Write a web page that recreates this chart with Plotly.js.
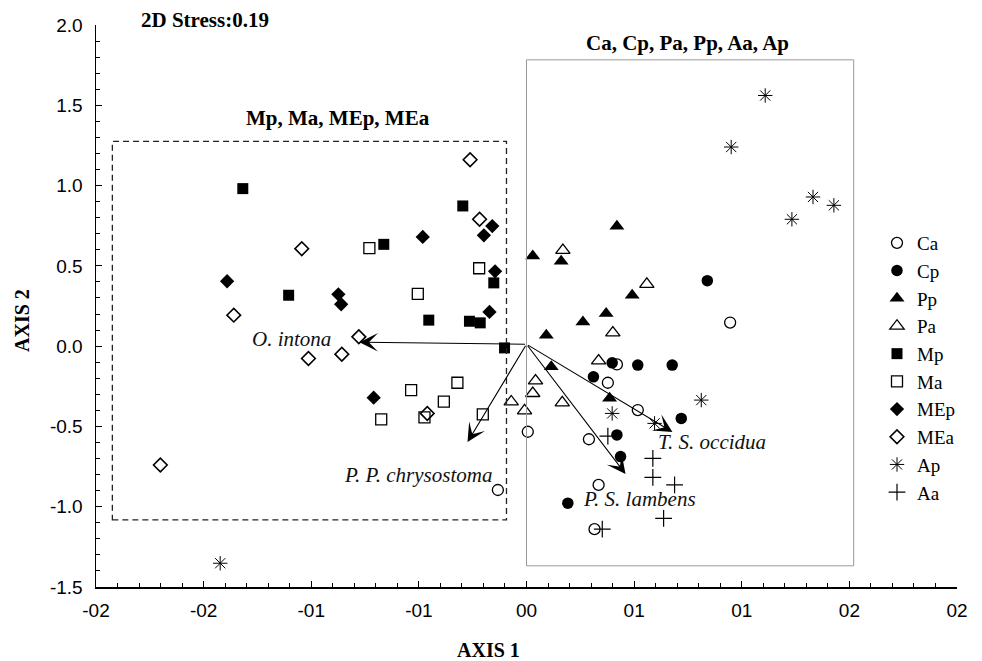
<!DOCTYPE html>
<html>
<head>
<meta charset="utf-8">
<script src="https://cdn.plot.ly/plotly-3.0.1.min.js"></script>
<style>html,body{margin:0;padding:0;background:#fff;}#chart{width:982px;height:661px;}</style>
</head>
<body>
<div id="chart"></div>
<script>
// ---- data ----
const caX = [0.0946, 0.0420, 0.0378, 0.0517, 0.0006, 0.0290, 0.0335, 0.0316, -0.0133];
const caY = [0.147, -0.114, -0.228, -0.398, -0.533, -0.580, -0.864, -1.140, -0.896];
const cpX = [0.0840, 0.0398, 0.0517, 0.0677, 0.0311, 0.0719, 0.0420, 0.0437, 0.0192];
const cpY = [0.408, -0.104, -0.118, -0.118, -0.191, -0.450, -0.553, -0.688, -0.978];
const ppX = [0.0420, 0.0029, 0.0161, 0.0491, 0.0370, 0.0262, 0.0092, 0.0115, 0.0386];
const ppY = [0.746, 0.562, 0.529, 0.317, 0.203, 0.151, 0.068, -0.129, -0.325];
const paX = [0.0169, 0.0559, 0.0401, 0.0335, 0.0042, 0.0029, -0.0009, 0.0166, -0.0071];
const paY = [0.597, 0.386, 0.083, -0.091, -0.216, -0.294, -0.402, -0.352, -0.346];
const mpX = [-0.1318, -0.1105, -0.0663, -0.0296, -0.0152, -0.0454, -0.0265, -0.0215, -0.0102];
const mpY = [0.981, 0.317, 0.634, 0.873, 0.394, 0.162, 0.155, 0.145, -0.011];
const maX = [-0.0730, -0.0220, -0.0505, -0.0321, -0.0536, -0.0384, -0.0675, -0.0474, -0.0203];
const maY = [0.611, 0.485, 0.325, -0.228, -0.274, -0.346, -0.456, -0.444, -0.425];
const mepX = [-0.1391, -0.0874, -0.0861, -0.0482, -0.0159, -0.0198, -0.0146, -0.0172, -0.0710];
const mepY = [0.404, 0.323, 0.261, 0.680, 0.748, 0.690, 0.466, 0.213, -0.321];
const meaX = [-0.0262, -0.0218, -0.1044, -0.1360, -0.0779, -0.0858, -0.0461, -0.1013, -0.1701];
const meaY = [1.161, 0.790, 0.607, 0.193, 0.058, -0.050, -0.419, -0.077, -0.740];
const apX = [0.1109, 0.0951, 0.1331, 0.1428, 0.1233, 0.0812, 0.0398, 0.0595, -0.1423];
const apY = [1.561, 1.240, 0.929, 0.877, 0.790, -0.336, -0.419, -0.481, -1.352];
const aaX = [0.0378, 0.0587, 0.0587, 0.0688, 0.0637, 0.0352];
const aaY = [-0.560, -0.699, -0.817, -0.864, -1.072, -1.140];

// species vectors (arrows from the origin)
const vecNames = ['O. intona', 'P. P. chrysostoma', 'T. S. occidua', 'P. S. lambens'];
const vecX = [-0.0776, -0.0274, 0.0678, 0.0460];
const vecY = [0.025, -0.597, -0.535, -0.796];
const vecOriginX = 0.0;
const vecOriginY = 0.012;

// group boxes
const boxLabels = ['Mp, Ma, MEp, MEa', 'Ca, Cp, Pa, Pp, Aa, Ap'];
const boxX0 = [-0.1924, 0.0];
const boxX1 = [-0.0093, 0.152];
const boxY0 = [-1.082, -1.368];
const boxY1 = [1.275, 1.783];

const stressText = '2D Stress:0.19';
const xTickVals = [-0.2, -0.15, -0.1, -0.05, 0, 0.05, 0.1, 0.15, 0.2];
const xTickText = ['-02', '-02', '-01', '-01', '00', '01', '01', '02', '02'];
const yTickVals = [-1.5, -1.0, -0.5, 0.0, 0.5, 1.0, 1.5, 2.0];
const yTickText = ['-1.5', '-1.0', '-0.5', '0.0', '0.5', '1.0', '1.5', '2.0'];
const xTitle = 'AXIS 1';
const yTitle = 'AXIS 2';

// ---- styling ----
const SERIF = 'Liberation Serif, Times New Roman, serif';
const SANS = 'Liberation Sans, Arial, sans-serif';
const K = '#000';

function tr(name, x, y, symbol, size, lw) {
  return {
    type: 'scatter', mode: 'markers', name: name, x: x, y: y,
    cliponaxis: false,
    marker: { symbol: symbol, size: size, color: K, line: { color: K, width: lw } }
  };
}

const traces = [
  tr('Ca', caX, caY, 'circle-open', 11, 1.3),
  tr('Cp', cpX, cpY, 'circle', 11.5, 0),
  tr('Pp', ppX, ppY, 'triangle-up', 13, 0),
  tr('Pa', paX, paY, 'triangle-up-open', 12.5, 1.3),
  tr('Mp', mpX, mpY, 'square', 11, 0),
  tr('Ma', maX, maY, 'square-open', 11, 1.3),
  tr('MEp', mepX, mepY, 'diamond', 11, 0),
  tr('MEa', meaX, meaY, 'diamond-open', 10.5, 1.6),
  tr('Ap', apX, apY, 'asterisk-open', 12, 1),
  tr('Aa', aaX, aaY, 'cross-thin-open', 12, 1.2)
];

const annotations = [];
// arrows
for (let i = 0; i < vecNames.length; i++) {
  annotations.push({
    x: vecX[i], y: vecY[i], xref: 'x', yref: 'y',
    ax: vecOriginX, ay: vecOriginY, axref: 'x', ayref: 'y',
    showarrow: true, arrowhead: 3, arrowsize: 2.8, arrowwidth: 1.1, arrowcolor: K,
    standoff: 0, startstandoff: 0, text: ''
  });
}
// vector labels
const vecLabelPos = [[-0.109, 0.044], [-0.0504, -0.802], [0.0864, -0.597], [0.0523, -0.951]];
for (let i = 0; i < vecNames.length; i++) {
  annotations.push({
    x: vecLabelPos[i][0], y: vecLabelPos[i][1], xref: 'x', yref: 'y',
    xanchor: 'center', yanchor: 'middle',
    text: '<i>' + vecNames[i] + '</i>', showarrow: false,
    font: { family: SERIF, size: 21, color: '#111' }
  });
}
// box labels
const boxLabelPos = [[-0.0878, 1.418], [0.0748, 1.890]];
for (let i = 0; i < boxLabels.length; i++) {
  annotations.push({
    x: boxLabelPos[i][0], y: boxLabelPos[i][1], xref: 'x', yref: 'y',
    xanchor: 'center', yanchor: 'middle',
    text: '<b>' + boxLabels[i] + '</b>', showarrow: false,
    font: { family: SERIF, size: 21, color: K }
  });
}
annotations.push({
  x: (205 - 96) / 861, y: (587 - 20) / 562, xref: 'paper', yref: 'paper',
  xanchor: 'center', yanchor: 'middle', text: '<b>' + stressText + '</b>',
  showarrow: false, font: { family: SERIF, size: 21, color: K }
});
// axis titles
annotations.push({
  x: (488 - 96) / 861, y: -(650 - 587) / 562, xref: 'paper', yref: 'paper',
  xanchor: 'center', yanchor: 'middle',
  text: '<b>' + xTitle + '</b>', showarrow: false, font: { family: SERIF, size: 20, color: K }
});
annotations.push({
  x: -(96 - 22) / 861, y: (587 - 321) / 562, xref: 'paper', yref: 'paper', textangle: -90,
  xanchor: 'center', yanchor: 'middle',
  text: '<b>' + yTitle + '</b>', showarrow: false, font: { family: SERIF, size: 20, color: K }
});

const shapes = [
  { type: 'rect', xref: 'x', yref: 'y', x0: boxX0[0], x1: boxX1[0], y0: boxY0[0], y1: boxY1[0],
    line: { color: '#222', width: 1.3, dash: '6px,4px' }, fillcolor: 'rgba(0,0,0,0)' },
  { type: 'rect', xref: 'x', yref: 'y', x0: boxX0[1], x1: boxX1[1], y0: boxY0[1], y1: boxY1[1],
    line: { color: '#999', width: 1 }, fillcolor: 'rgba(0,0,0,0)' }
];

const axisCommon = {
  showgrid: false, zeroline: false, showline: true, linecolor: K, linewidth: 1.5,
  ticks: 'inside', ticklen: 6, tickwidth: 1.2, tickcolor: K, tickmode: 'array',
  tickfont: { family: SANS, size: 19, color: K }
};

const layout = {
  width: 982, height: 661,
  margin: { l: 96, r: 25, t: 25, b: 74, pad: 0 },
  paper_bgcolor: '#fff', plot_bgcolor: '#fff',
  showlegend: true,
  legend: {
    x: (877 - 96) / 861, y: (587 - 224) / 562, xanchor: 'left', yanchor: 'top',
    bgcolor: 'rgba(0,0,0,0)', borderwidth: 0,
    font: { family: SERIF, size: 19, color: K }
  },
  xaxis: Object.assign({}, axisCommon, {
    range: [-0.2, 0.2], tickvals: xTickVals, ticktext: xTickText, ticklabelstandoff: 6,
    minor: { dtick: 0.01, tick0: 0, ticks: 'inside', ticklen: 4, tickcolor: K, tickwidth: 1, showgrid: false }
  }),
  yaxis: Object.assign({}, axisCommon, {
    range: [-1.5, 2.0], tickvals: yTickVals, ticktext: yTickText, ticklabelstandoff: 8,
    minor: { dtick: 0.1, tick0: 0, ticks: 'inside', ticklen: 4, tickcolor: K, tickwidth: 1, showgrid: false }
  }),
  annotations: annotations,
  shapes: shapes
};

Plotly.newPlot('chart', traces, layout, { displayModeBar: false, staticPlot: true });
</script>
</body>
</html>
